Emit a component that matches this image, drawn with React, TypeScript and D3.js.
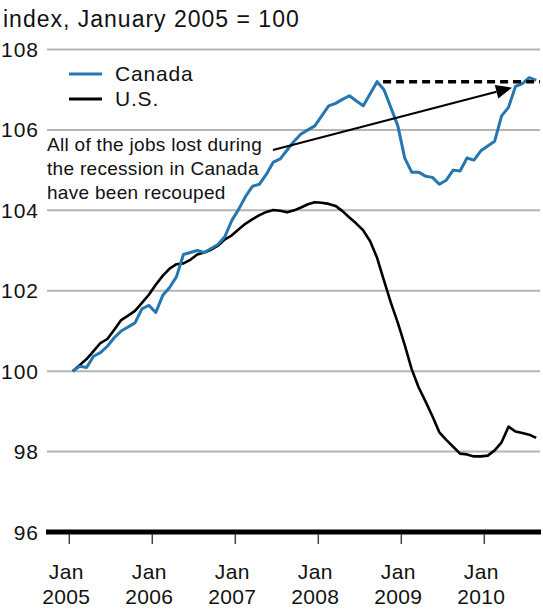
import React from "react";
import * as d3 from "d3";

const title = "index, January 2005 = 100";
const startYear = 2005;
const yTicks = [96, 98, 100, 102, 104, 106, 108];
const xTickYears = [2005, 2006, 2007, 2008, 2009, 2010];
const seriesNames = ["Canada", "U.S."];
const annotationLines = ["All of the jobs lost during", "the recession in Canada", "have been recouped"];

// Monthly index, Jan 2005 – Aug 2010
const canada = [
  100.0, 100.12, 100.09, 100.37, 100.46, 100.62, 100.83, 101.0, 101.1, 101.2, 101.55, 101.64,
  101.46, 101.88, 102.08, 102.35, 102.9, 102.95, 103.0, 102.95, 103.05, 103.15, 103.35, 103.75,
  104.03, 104.35, 104.6, 104.65, 104.9, 105.2, 105.28, 105.5, 105.72, 105.9, 106.0, 106.1,
  106.35, 106.6, 106.66, 106.76, 106.85, 106.72, 106.6, 106.9, 107.2, 107.0, 106.55, 106.1,
  105.3, 104.95, 104.95, 104.85, 104.82, 104.65, 104.75, 105.0, 104.98, 105.3, 105.25, 105.48,
  105.6, 105.72, 106.35, 106.56, 107.08, 107.15, 107.3, 107.23,
];
const us = [
  100.0, 100.15, 100.3, 100.5, 100.7, 100.8, 101.03, 101.27, 101.38, 101.5, 101.7, 101.9,
  102.15, 102.37, 102.55, 102.66, 102.68, 102.77, 102.9, 102.95, 103.02, 103.12, 103.28, 103.38,
  103.53, 103.67, 103.78, 103.88, 103.96, 104.01, 103.99, 103.95, 104.0, 104.07, 104.15, 104.2,
  104.19, 104.16, 104.11, 103.98, 103.82, 103.67, 103.5, 103.23, 102.82, 102.25, 101.7, 101.2,
  100.65, 100.05, 99.6, 99.25, 98.88, 98.48, 98.29, 98.12, 97.95, 97.93, 97.88, 97.88,
  97.9, 98.03, 98.23, 98.62, 98.5, 98.46, 98.42, 98.34,
];
// recouped level (Canada's pre-recession peak), dashed reference
const peakLevel = 107.2;
const peakMonthIndex = 44;

const W = 543;
const H = 613;
const FONT = "'Liberation Sans', Arial, Helvetica, sans-serif";
const BLUE = "#2676b0";

export default function App() {
  const x = d3.scaleLinear().domain([2005, 2010]).range([69.3, 484.3]);
  const y = d3.scaleLinear().domain([96, 108]).range([532, 49.5]);
  const mx = (i: number) => x(startYear + (i + 0.5) / 12);

  const line = d3
    .line<number>()
    .x((_, i) => mx(i))
    .y((d) => y(d))
    .curve(d3.curveLinear);

  const gridX0 = 47;
  const gridX1 = 540;

  // arrow geometry
  const ax0 = 273, ay0 = 150;
  const ax1 = 512, ay1 = y(peakLevel) + 6;
  const ang = Math.atan2(ay1 - ay0, ax1 - ax0);
  const headLen = 16, headW = 7;
  const bx = ax1 - headLen * Math.cos(ang);
  const by = ay1 - headLen * Math.sin(ang);
  const px = -Math.sin(ang) * headW;
  const py = Math.cos(ang) * headW;

  return (
    <svg
      width={W}
      height={H}
      style={{ position: "absolute", left: 0, top: 0, background: "#fff" }}
      fontFamily={FONT}
    >
      <rect width={W} height={H} fill="#fff" />
      <text x={3} y={27} fontSize={23} letterSpacing={1} fill="#111">{title}</text>

      {yTicks.filter((t) => t !== 96).map((t) => (
        <line key={t} x1={gridX0} x2={gridX1} y1={y(t)} y2={y(t)} stroke="#b4b4b4" strokeWidth={2} />
      ))}
      {yTicks.map((t) => (
        <text key={"l" + t} x={39} y={y(t)} dy="0.36em" textAnchor="end" fontSize={21} letterSpacing={1} fill="#111">
          {t}
        </text>
      ))}

      {/* legend */}
      <line x1={69} x2={102} y1={74} y2={74} stroke={BLUE} strokeWidth={3} />
      <text x={115} y={81} fontSize={21} letterSpacing={0.8} fill="#111">{seriesNames[0]}</text>
      <line x1={69} x2={102} y1={99} y2={99} stroke="#000" strokeWidth={3} />
      <text x={115} y={106} fontSize={21} letterSpacing={0.8} fill="#111">{seriesNames[1]}</text>

      {/* annotation */}
      {annotationLines.map((s, i) => (
        <text key={i} x={47} y={151 + i * 24} fontSize={19} letterSpacing={0.3} fill="#111">{s}</text>
      ))}

      {/* series */}
      <path d={line(us) || ""} fill="none" stroke="#000" strokeWidth={2.6} strokeLinejoin="round" />
      <path d={line(canada) || ""} fill="none" stroke={BLUE} strokeWidth={3} strokeLinejoin="round" />

      {/* dashed recouped line */}
      <line
        x1={mx(peakMonthIndex) + 6}
        x2={gridX1}
        y1={y(peakLevel)}
        y2={y(peakLevel)}
        stroke="#000"
        strokeWidth={3.5}
        strokeDasharray="8,5"
      />
      {/* arrow */}
      <line x1={ax0} y1={ay0} x2={bx} y2={by} stroke="#000" strokeWidth={2} />
      <path d={`M${ax1},${ay1}L${bx + px},${by + py}L${bx - px},${by - py}Z`} fill="#000" />

      {/* x axis */}
      <line x1={46} x2={541} y1={y(96)} y2={y(96)} stroke="#000" strokeWidth={5} />
      {xTickYears.map((yr) => (
        <g key={yr}>
          <line x1={x(yr)} x2={x(yr)} y1={y(96) + 2} y2={y(96) + 12} stroke="#444" strokeWidth={1.5} />
          <text x={x(yr) - 3} y={579} textAnchor="middle" fontSize={21} letterSpacing={0.4} fill="#111">Jan</text>
          <text x={x(yr) - 3} y={604} textAnchor="middle" fontSize={21} letterSpacing={0.4} fill="#111">{yr}</text>
        </g>
      ))}
    </svg>
  );
}
